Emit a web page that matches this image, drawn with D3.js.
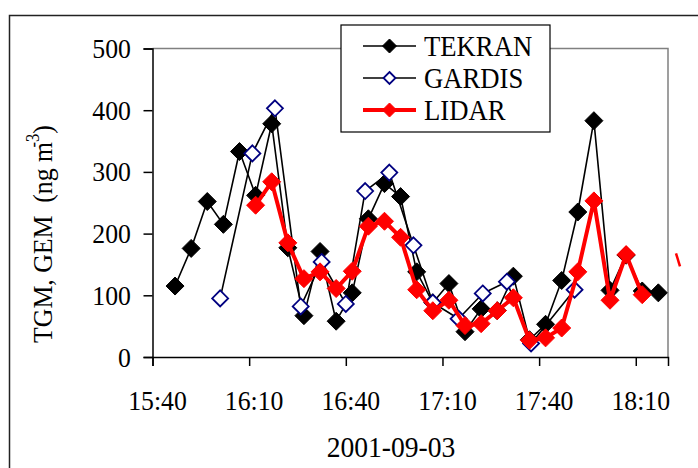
<!DOCTYPE html>
<html><head><meta charset="utf-8">
<script src="https://cdn.jsdelivr.net/npm/d3@7"></script>
<style>html,body{margin:0;padding:0;background:#fff;} svg{display:block;} text{font-family:"Liberation Serif","Times New Roman",serif;fill:#000;}</style>
</head><body>
<script>
// ---- data ----
const dateStr = "2001-09-03";
const tekranTimes = ["15:47","15:52","15:57","16:02","16:07","16:12","16:17","16:22","16:27","16:32","16:37","16:42","16:47","16:52","16:57","17:02","17:07","17:12","17:17","17:22","17:27","17:32","17:37","17:42","17:47","17:52","17:57","18:02","18:07","18:12","18:17"];
const tekranValues = [115,176,252,215,333,262,378,177,67,171,58,104,224,281,260,138,88,119,41,78,75,131,28,53,124,235,383,108,165,107,104];
const gardisTimes = ["16:01","16:11","16:18","16:26","16:32:30","16:40","16:46","16:53:30","17:01","17:07","17:15","17:22:30","17:30","17:37:30","17:51"];
const gardisValues = [95,330,403,82,154,86,269,299,181,88,62,103,122,22,109];
const lidarTimes = ["16:12","16:17","16:22","16:27","16:32","16:37","16:42","16:47","16:52","16:57","17:02","17:07","17:12","17:17","17:22","17:27","17:32","17:37","17:42","17:47","17:52","17:57","18:02","18:07","18:12"];
const lidarValues = [246,284,185,127,138,111,139,212,220,194,109,75,92,51,54,75,96,27,31,47,138,253,92,166,101];
const xTickLabels = ["15:40","16:10","16:40","17:10","17:40","18:10"];
const yTickValues = [0,100,200,300,400,500];
const seriesNames = ["TEKRAN","GARDIS","LIDAR"];
const xDomain = ["15:40","18:20"];
const yDomain = [0,500];

// ---- helpers ----
const parseT = s => {
  const p = s.split(":").map(Number);
  return new Date(2001, 8, 3, p[0], p[1], p[2] || 0);
};
const W = 698, H = 468;
const svg = d3.select("body").append("svg").attr("width", W).attr("height", H);
const SX = 0.92;
function txt(g, x, y, s, size, anchor, rot) {
  return g.append("text")
    .attr("transform", `translate(${x},${y})${rot ? " rotate(" + rot + ")" : ""} scale(${SX},1)`)
    .attr("text-anchor", anchor || "start")
    .style("font-size", size + "px")
    .text(s);
}

// outer chart frame
svg.append("path").attr("d", `M9.5,${H} V15.5 H${W}`).attr("fill", "none").attr("stroke", "#222").attr("stroke-width", 1.5);

const L = 152.5, R = 668, T = 48.5, B = 357;
const x = d3.scaleTime().domain(xDomain.map(parseT)).range([L, R]);
const y = d3.scaleLinear().domain(yDomain).range([B, T]);

// plot border (top/right gray)
svg.append("path").attr("d", `M${L},${T} H${R} V${B}`).attr("fill", "none").attr("stroke", "#808080").attr("stroke-width", 1.5);

// axes
const yAxis = svg.append("g").attr("transform", `translate(${L},0)`)
  .call(d3.axisLeft(y).tickValues(yTickValues).tickSize(9).tickFormat(""));
const xAxis = svg.append("g").attr("transform", `translate(0,${B})`)
  .call(d3.axisBottom(x).tickValues(xTickLabels.map(parseT)).tickSize(9).tickFormat(""));
[yAxis, xAxis].forEach(a => {
  a.select(".domain").attr("stroke", "#000").attr("stroke-width", 1.5);
  a.selectAll(".tick line").attr("stroke", "#000").attr("stroke-width", 1.5);
});

const lab = svg.append("g");
yTickValues.forEach(v => txt(lab, 131, y(v) + 9.5, String(v), 28, "end"));
xTickLabels.forEach(s => txt(lab, x(parseT(s)) + 5, 410, s, 28, "middle"));
txt(lab, 391, 457, dateStr, 30, "middle");

// y title
const yt = lab.append("text")
  .attr("transform", `translate(52,234) rotate(-90) scale(${SX},1)`)
  .attr("text-anchor", "middle").style("font-size", "28px").attr("xml:space", "preserve");
yt.append("tspan").text("TGM, GEM  (ng m");
yt.append("tspan").style("font-size", "18px").attr("dy", -13).attr("dx", -6).text("-3");
yt.append("tspan").attr("dy", 13).text(")");

// series
const diamond = r => `M0,${-r}L${r},0L0,${r}L${-r},0Z`;
function drawSeries(times, vals, o) {
  const pts = times.map((t, i) => [x(parseT(t)), y(vals[i])]);
  const g = svg.append("g");
  g.append("path").attr("d", d3.line()(pts)).attr("fill", "none")
    .attr("stroke", o.line).attr("stroke-width", o.lw).attr("stroke-linejoin", "round");
  g.selectAll("path.m").data(pts).join("path").attr("class", "m")
    .attr("transform", d => `translate(${d[0]},${d[1]})`)
    .attr("d", diamond(o.r)).attr("fill", o.fill).attr("stroke", o.stroke).attr("stroke-width", o.sw);
}
const styles = [
  {line: "#000", lw: 1.6, r: 9, fill: "#000", stroke: "#000", sw: 1},
  {line: "#000", lw: 1.6, r: 8, fill: "#fff", stroke: "#000080", sw: 1.8},
  {line: "#ff0000", lw: 4, r: 9, fill: "#ff0000", stroke: "#ff0000", sw: 1}
];
drawSeries(tekranTimes, tekranValues, styles[0]);
drawSeries(gardisTimes, gardisValues, styles[1]);
drawSeries(lidarTimes, lidarValues, styles[2]);

// small red stray mark right of plot
svg.append("path").attr("d", `M${R + 8},${y(168)} L${R + 12},${y(147)}`).attr("stroke", "#ff0000").attr("stroke-width", 2.5);

// legend
const lg = svg.append("g");
lg.append("rect").attr("x", 341).attr("y", 25).attr("width", 209).attr("height", 107)
  .attr("fill", "#fff").attr("stroke", "#000").attr("stroke-width", 1.2);
const legR = [7, 6, 7];
seriesNames.forEach((n, i) => {
  const cy = 46 + i * 32;
  const s = styles[i];
  lg.append("line").attr("x1", 363).attr("x2", 416).attr("y1", cy).attr("y2", cy)
    .attr("stroke", s.line).attr("stroke-width", i === 2 ? 4 : 1.6);
  lg.append("path").attr("transform", `translate(389.5,${cy})`).attr("d", diamond(legR[i]))
    .attr("fill", s.fill).attr("stroke", s.stroke).attr("stroke-width", s.sw);
  txt(lg, 424, cy + 10, n, 29, "start");
});
</script>
</body></html>
